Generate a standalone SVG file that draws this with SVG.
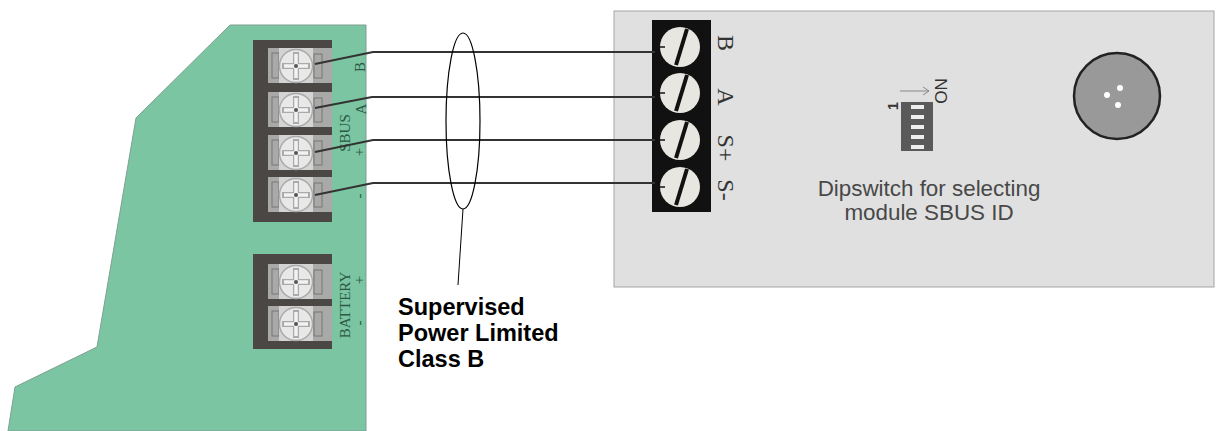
<svg xmlns="http://www.w3.org/2000/svg" xmlns:xlink="http://www.w3.org/1999/xlink" width="1217" height="431" viewBox="0 0 1217 431">
<style>
.sm{font-family:"Liberation Serif",serif;fill:#2a5a45;font-size:15px;text-anchor:middle}
.lbl{font-family:"Liberation Serif",serif;fill:#333;font-size:24px;text-anchor:middle}
.note{font-family:"Liberation Sans",Arial,sans-serif;font-weight:700;font-size:23.5px;fill:#000}
.dip{font-family:"Liberation Sans",Arial,sans-serif;font-size:22.4px;fill:#484848;text-anchor:middle}
.wire{fill:none;stroke:#333;stroke-width:2}
.dark{fill:#4b4745}
</style>
<defs>
<filter id="soft" x="-5%" y="-5%" width="110%" height="110%"><feGaussianBlur stdDeviation="0.7"/></filter>
<g id="tb">
<rect x="268" y="0" width="64" height="35" fill="#a9a9a7"/>
<rect x="272" y="5" width="7" height="25" fill="none" stroke="#777" stroke-width="1"/>
<rect x="314" y="6" width="8" height="24" fill="none" stroke="#777" stroke-width="1"/>
<rect x="279" y="0" width="34" height="35" fill="#d4d4d4"/>
<circle cx="296" cy="18" r="16.5" fill="#e8e8e8" stroke="#aaa" stroke-width="1.5"/>
<path d="M296 4V32M282 18H310" stroke="#aaa" stroke-width="6" fill="none"/>
<path d="M296 6V30M284 18H308" stroke="#f2f2f2" stroke-width="3.5" fill="none"/>
<circle cx="296" cy="18" r="2" fill="#555"/>
</g>
<g id="rs">
<circle cx="0" cy="0" r="20" fill="#e8e6e0"/>
<path d="M7 -18 L-4 18" stroke="#111" stroke-width="4"/>
<path d="M-20 0H-15" stroke="#111" stroke-width="1.5"/>
</g>
</defs>
<g id="board">
<polygon points="230,25 366,25 366,431 8,431 15,387 97,347 136,118" fill="#7cc5a3" stroke="#7f9f90" stroke-width="1"/>
</g>
<g id="sbus-terminal" filter="url(#soft)">
<rect class="dark" x="253" y="40" width="79" height="182"/>
<use xlink:href="#tb" href="#tb" y="48"/>
<use xlink:href="#tb" href="#tb" y="92"/>
<use xlink:href="#tb" href="#tb" y="135"/>
<use xlink:href="#tb" href="#tb" y="177"/>
</g>
<g id="battery-terminal" filter="url(#soft)">
<rect class="dark" x="253" y="254" width="79" height="95"/>
<use xlink:href="#tb" href="#tb" y="264"/>
<use xlink:href="#tb" href="#tb" y="306"/>
</g>
<g id="board-labels">
<text class="sm" transform="translate(365,67) rotate(-90)">B</text>
<text class="sm" transform="translate(366,109) rotate(-90)">A</text>
<text class="sm" transform="translate(350,133) rotate(-90)">SBUS</text>
<text class="sm" transform="translate(364,152) rotate(-90)">+</text>
<text class="sm" transform="translate(364,196) rotate(-90)">-</text>
<text class="sm" transform="translate(350,305) rotate(-90)">BATTERY</text>
<text class="sm" transform="translate(364,280) rotate(-90)">+</text>
<text class="sm" transform="translate(364,323) rotate(-90)">-</text>
</g>
<g id="module">
<rect x="614" y="11" width="600" height="276" fill="#e0e0e0" stroke="#a5a5a5" stroke-width="1"/>
</g>
<g id="module-terminal">
<rect x="652" y="20" width="59" height="192" fill="#111"/>
<use xlink:href="#rs" href="#rs" x="680" y="47"/>
<use xlink:href="#rs" href="#rs" x="680" y="93"/>
<use xlink:href="#rs" href="#rs" x="680" y="140"/>
<use xlink:href="#rs" href="#rs" x="680" y="187"/>
<text class="lbl" transform="translate(718,43) rotate(90)">B</text>
<text class="lbl" transform="translate(718,97) rotate(90)">A</text>
<text class="lbl" transform="translate(718,148) rotate(90)">S+</text>
<text class="lbl" transform="translate(718,190) rotate(90)">S-</text>
</g>
<g id="connectors">
<polyline class="wire" points="315,64 373,52 655,52"/>
<polyline class="wire" points="315,108 372,97 655,97"/>
<polyline class="wire" points="315,152 373,140 655,140"/>
<polyline class="wire" points="315,195 373,183 655,183"/>
<path d="M463 209L458 285" fill="none" stroke="#000" stroke-width="1"/>
</g>
<g id="bundle">
<ellipse cx="463" cy="121" rx="17" ry="88" fill="none" stroke="#000" stroke-width="1.2"/>
</g>
<g id="supervised-note">
<text class="note" x="398" y="315">Supervised</text>
<text class="note" x="398" y="341">Power Limited</text>
<text class="note" x="398" y="367">Class B</text>
</g>
<g id="dipswitch">
<rect x="901" y="102" width="32" height="49" fill="#5a5a5a"/>
<rect x="911" y="105" width="13" height="4" fill="#eee"/>
<rect x="911" y="115" width="13" height="4" fill="#eee"/>
<rect x="911" y="125" width="13" height="4" fill="#eee"/>
<rect x="911" y="135" width="13" height="4" fill="#eee"/>
<rect x="911" y="145" width="13" height="4" fill="#eee"/>
<path d="M900 91H929M923 87L929 91L923 95" fill="none" stroke="#888" stroke-width="1"/>
<text transform="translate(947,91) rotate(-90)" text-anchor="middle" font-family="Liberation Sans,Arial,sans-serif" font-size="17" fill="#333">ON</text>
<text transform="translate(898,106) rotate(-90)" text-anchor="middle" font-family="Liberation Sans,Arial,sans-serif" font-size="14" font-weight="700" fill="#333">1</text>
<text class="dip" x="929" y="196">Dipswitch for selecting</text>
<text class="dip" x="929" y="220">module SBUS ID</text>
</g>
<g id="speaker">
<circle cx="1117" cy="96" r="43" fill="#999" stroke="#222" stroke-width="2.5"/>
<circle cx="1120" cy="88" r="3" fill="#fff"/>
<circle cx="1107" cy="95" r="3" fill="#fff"/>
<circle cx="1118" cy="105" r="3" fill="#fff"/>
</g>
</svg>
